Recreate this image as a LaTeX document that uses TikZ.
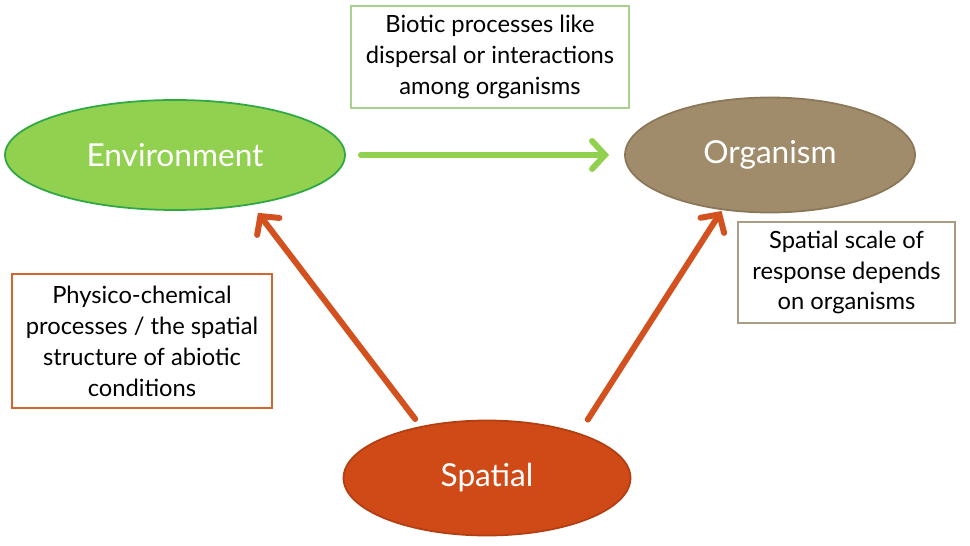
\documentclass[tikz,border=0pt]{standalone}
\usepackage{fontspec}
\setmainfont{Lato}
\usepackage{tikz}
\usetikzlibrary{arrows.meta,shapes.geometric}

\definecolor{envgreen}{HTML}{92D050}
\definecolor{envborder}{HTML}{2EA845}
\definecolor{orgbrown}{HTML}{A08B6B}
\definecolor{orgborder}{HTML}{8A7858}
\definecolor{spred}{HTML}{D04A17}
\definecolor{spborder}{HTML}{B23E12}
\definecolor{arrred}{HTML}{D3511F}
\definecolor{boxgreen}{HTML}{A9D18E}
\definecolor{boxred}{HTML}{D3652F}
\definecolor{boxbrown}{HTML}{AA9C82}

\begin{document}
\begin{tikzpicture}[
  blob/.style={ellipse, line width=1pt, text=white, font=\fontsize{18}{22}\selectfont, inner sep=0pt},
  note/.style={rectangle, line width=0.8pt, align=center, font=\fontsize{13.5}{17.6}\selectfont, inner sep=0pt},
  link/.style={line width=3.4pt, line cap=round, -{Straight Barb[length=0.26cm, width=0.56cm, line cap=round]}}
]
\useasboundingbox (0,0) rectangle (19.4,-10.92);

% the three ellipses
\node[blob, fill=envgreen, draw=envborder, minimum width=6.8cm, minimum height=2.2cm] (env) at (3.5,-3.1) {Environment};
\node[blob, fill=orgbrown, draw=orgborder, minimum width=5.8cm, minimum height=2.3cm] (org) at (15.4,-3.1) {Organism};
\node[blob, fill=spred, draw=spborder, minimum width=5.74cm, minimum height=2.3cm] (spat) at (9.74,-9.56) {Spatial};

% text boxes
\node[note, draw=boxgreen, minimum width=5.56cm, minimum height=2.04cm] (biotic) at (9.8,-1.14)
  {Biotic processes like\\dispersal or interactions\\among organisms};
\node[note, draw=boxred, minimum width=5.2cm, minimum height=2.68cm] (physico) at (2.84,-6.82)
  {Physico-chemical\\processes / the spatial\\structure of abiotic\\conditions};
\node[note, draw=boxbrown, minimum width=4.34cm, minimum height=2.02cm] (scale) at (16.93,-5.45)
  {Spatial scale of\\response depends\\on organisms};

% arrows
\draw[link, draw=envgreen, shorten <=0.3cm, shorten >=0.3cm] (env) -- (org);
\draw[link, draw=arrred, shorten <=0.18cm, shorten >=0.2cm] (spat.142.5) -- (env.-33.8);
\draw[link, draw=arrred, shorten <=0.32cm, shorten >=0.02cm] (spat.26.8) -- (org.-131.6);
\end{tikzpicture}
\end{document}
